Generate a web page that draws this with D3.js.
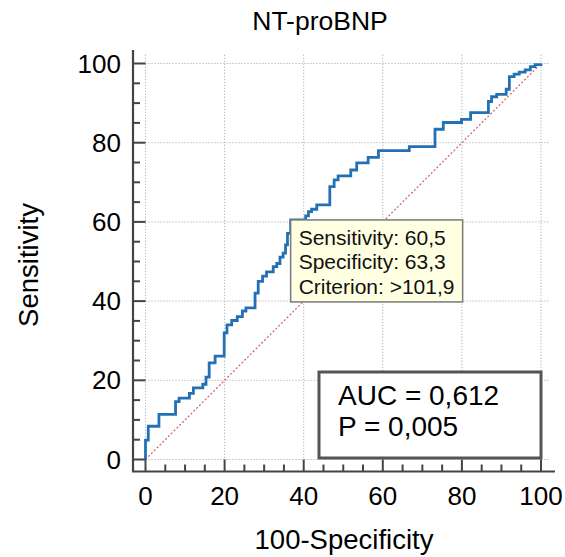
<!DOCTYPE html>
<html>
<head>
<meta charset="utf-8">
<script src="https://cdn.jsdelivr.net/npm/d3@7"></script>
<style>
  html, body { margin: 0; padding: 0; background: #fff; }
  svg { display: block; font-family: "Liberation Sans", Arial, sans-serif; }
</style>
</head>
<body>
<svg id="roc"></svg>
<script>
// ROC points (100-Specificity, Sensitivity)
const fpr = [0, 0, 0.7, 3.4, 7.6, 8.5, 11.1, 12.1, 14.5, 15.3, 16.1, 17.6, 19.9, 20.6,
  21.8, 23.2, 24.5, 25.4, 27.7, 28.5, 29.6, 30.6, 32.3, 33.2, 34.0, 34.8, 35.4, 35.9,
  36.7, 40.5, 41.2, 42.0, 43.3, 46.6, 47.7, 48.7, 51.9, 53.4, 56.3, 58.9, 66.7, 73.2,
  75.3, 79.9, 82.2, 86.7, 87.5, 88.8, 91.2, 92.0, 93.2, 94.5, 96.0, 97.3, 98.5, 100];
const tpr = [0, 4.9, 8.4, 11.4, 14.6, 15.5, 16.7, 18.1, 19.0, 20.8, 24.4, 26.1, 32.0, 34.0,
  35.1, 36.1, 37.5, 38.3, 42.0, 45.0, 46.3, 47.4, 48.7, 49.5, 51.1, 52.1, 54.2, 57.1,
  60.5, 61.5, 62.6, 63.2, 64.3, 68.9, 70.6, 71.6, 73.1, 74.9, 76.3, 78.0, 79.0, 83.4,
  85.1, 85.9, 87.6, 90.4, 91.6, 92.2, 93.5, 96.7, 97.3, 97.8, 98.4, 99.2, 99.7, 100];

const majorTicks = [0, 20, 40, 60, 80, 100];
const minorTicks = d3.range(0, 101, 5);

const cutoff = { fpr: 100 - 63.3, tpr: 60.5 };
const cutoffLines = ["Sensitivity: 60,5", "Specificity: 63,3", "Criterion: >101,9"];
const statLines = ["AUC = 0,612", "P = 0,005"];

const title = "NT-proBNP";
const xTitle = "100-Specificity";
const yTitle = "Sensitivity";

const width = 565, height = 557;
const svg = d3.select("#roc").attr("width", width).attr("height", height);

const x = d3.scaleLinear().domain([0, 100]).range([145.5, 541]);
const y = d3.scaleLinear().domain([0, 100]).range([459.5, 63.5]);

const axisX = 133, axisY = 471.5;

// grid
const grid = svg.append("g").attr("stroke", "#a0a0a0").attr("stroke-width", 1)
  .attr("stroke-dasharray", "1,2");
grid.selectAll(".v").data(majorTicks).join("line")
  .attr("x1", d => x(d)).attr("x2", d => x(d))
  .attr("y1", y(102.2)).attr("y2", y(0));
grid.selectAll(".h").data(majorTicks).join("line")
  .attr("y1", d => y(d)).attr("y2", d => y(d))
  .attr("x1", x(0)).attr("x2", x(102.3));

// diagonal reference
svg.append("line")
  .attr("x1", x(0)).attr("y1", y(0)).attr("x2", x(100)).attr("y2", y(100))
  .attr("stroke", "#d06060").attr("stroke-width", 1.2).attr("stroke-dasharray", "2,2");

// ROC curve
const line = d3.line().x(d => x(d[0])).y(d => y(d[1])).curve(d3.curveStepAfter);
svg.append("path")
  .datum(d3.zip(fpr, tpr))
  .attr("d", line)
  .attr("fill", "none")
  .attr("stroke", "#2470b4")
  .attr("stroke-width", 2.8);

// axes
const ax = svg.append("g").attr("stroke", "#444");
ax.append("line").attr("x1", axisX).attr("x2", axisX).attr("y1", 50).attr("y2", axisY)
  .attr("stroke-width", 2.2);
ax.append("line").attr("x1", axisX - 1).attr("x2", 555).attr("y1", axisY).attr("y2", axisY)
  .attr("stroke-width", 2.2);
ax.selectAll(".yt").data(minorTicks).join("line")
  .attr("x1", axisX).attr("x2", d => majorTicks.includes(d) ? x(0) : axisX + 7)
  .attr("y1", d => y(d)).attr("y2", d => y(d)).attr("stroke-width", 2);
ax.selectAll(".xt").data(minorTicks).join("line")
  .attr("y1", axisY).attr("y2", d => majorTicks.includes(d) ? y(0) : axisY - 7)
  .attr("x1", d => x(d)).attr("x2", d => x(d)).attr("stroke-width", 2);

const labels = svg.append("g").attr("fill", "#000").attr("font-size", 26);
labels.selectAll(".yl").data(majorTicks).join("text")
  .attr("x", 121).attr("y", d => y(d) + 9)
  .attr("text-anchor", "end").text(d => d);
labels.selectAll(".xl").data(majorTicks).join("text")
  .attr("x", d => x(d)).attr("y", 505)
  .attr("text-anchor", "middle").text(d => d);

svg.append("text").attr("x", 320).attr("y", 30).attr("text-anchor", "middle")
  .attr("font-size", 26.5).text(title);
svg.append("text").attr("x", 344).attr("y", 549).attr("text-anchor", "middle")
  .attr("font-size", 27.5).text(xTitle);
svg.append("text").attr("transform", "translate(38,265) rotate(-90)")
  .attr("text-anchor", "middle").attr("font-size", 27.5).text(yTitle);

// cutoff tooltip
const tip = svg.append("g")
  .attr("transform", `translate(${x(cutoff.fpr)},${y(cutoff.tpr)})`);
tip.append("rect").attr("width", 172).attr("height", 82)
  .attr("fill", "#ffffe1").attr("stroke", "#7a7a7a").attr("stroke-width", 1.5);
tip.selectAll("text").data(cutoffLines).join("text")
  .attr("x", 8).attr("y", (d, i) => 25 + i * 24.5)
  .attr("font-size", 21).attr("fill", "#111").text(d => d);

// AUC box
const stat = svg.append("g").attr("transform", "translate(319,372)");
stat.append("rect").attr("width", 222).attr("height", 86)
  .attr("fill", "#fff").attr("stroke", "#555").attr("stroke-width", 3);
stat.selectAll("text").data(statLines).join("text")
  .attr("x", 19).attr("y", (d, i) => 33 + i * 31)
  .attr("font-size", 28).attr("fill", "#000").text(d => d);
</script>
</body>
</html>
